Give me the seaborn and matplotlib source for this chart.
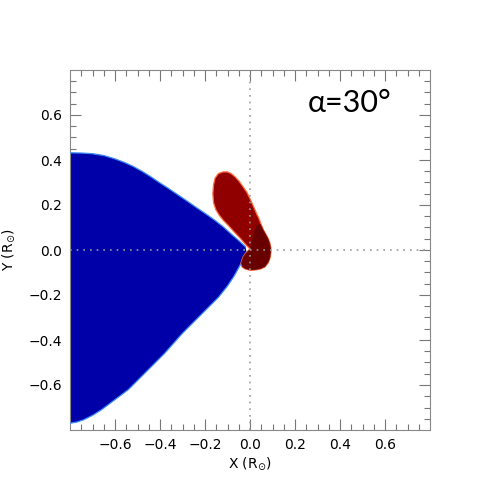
import matplotlib

matplotlib.use("agg")

import numpy as np
import pandas as pd
import matplotlib.pyplot as plt
import seaborn as sns

# Blue region outline (upper edge left -> tip, lower edge tip -> left)
blue_upper_x = [-0.80, -0.75, -0.70, -0.65, -0.60, -0.56, -0.52, -0.48, -0.44, -0.40,
                -0.36, -0.32, -0.28, -0.24, -0.20, -0.16, -0.12, -0.08, -0.05, -0.02]
blue_upper_y = [0.432, 0.431, 0.428, 0.420, 0.405, 0.390, 0.372, 0.350, 0.325, 0.298,
                0.272, 0.245, 0.218, 0.190, 0.163, 0.135, 0.104, 0.068, 0.042, 0.014]
blue_lower_x = [-0.015, -0.04, -0.07, -0.10, -0.14, -0.18, -0.22, -0.26, -0.30, -0.34, -0.38,
                -0.42, -0.46, -0.50, -0.54, -0.58, -0.62, -0.66, -0.70, -0.74, -0.77, -0.80]
blue_lower_y = [-0.010, -0.060, -0.115, -0.160, -0.210, -0.250, -0.290, -0.330, -0.370, -0.415, -0.460,
                -0.500, -0.540, -0.580, -0.620, -0.650, -0.680, -0.710, -0.735, -0.755, -0.765, -0.770]

# Red lobe outline
red_x = [-0.12, -0.14, -0.155, -0.162, -0.165, -0.162, -0.152, -0.137, -0.117, -0.098, -0.07,
         -0.044, -0.02, 0.0, -0.02, -0.031, -0.04, -0.035, -0.022, 0.0, 0.022, 0.048, 0.067,
         0.082, 0.089, 0.093, 0.093, 0.088, 0.08, 0.07, 0.06, 0.049, 0.039, 0.03, 0.017,
         0.003, -0.013, -0.03, -0.048, -0.066, -0.084, -0.1]
red_y = [0.347, 0.34, 0.32, 0.29, 0.25, 0.21, 0.18, 0.155, 0.13, 0.111, 0.08,
         0.053, 0.025, 0.005, -0.015, -0.031, -0.058, -0.075, -0.084, -0.09, -0.089, -0.084, -0.075,
         -0.055, -0.036, -0.012, 0.009, 0.032, 0.053, 0.071, 0.089, 0.115, 0.142, 0.16, 0.19,
         0.222, 0.255, 0.28, 0.305, 0.325, 0.34, 0.347]

# Darker core of the red lobe
core_x = [0.0, -0.02, -0.031, -0.04, -0.035, -0.022, 0.0, 0.022, 0.048, 0.067, 0.082,
          0.089, 0.093, 0.093, 0.088, 0.08, 0.07, 0.06, 0.047, 0.03, 0.018, 0.008]
core_y = [0.005, -0.015, -0.031, -0.058, -0.075, -0.084, -0.09, -0.089, -0.084, -0.075, -0.055,
          -0.036, -0.012, 0.009, 0.032, 0.053, 0.071, 0.089, 0.115, 0.11, 0.08, 0.04]

xticks = [-0.6, -0.4, -0.2, 0.0, 0.2, 0.4, 0.6]
yticks = [-0.6, -0.4, -0.2, 0.0, 0.2, 0.4, 0.6]
annotation = "\u03b1=30\u00b0"

sns.set_style("ticks")
plt.rcParams["font.family"] = ["DejaVu Sans"]
plt.rcParams["text.color"] = "black"
plt.rcParams["axes.labelcolor"] = "black"
plt.rcParams["xtick.labelcolor"] = "black"
plt.rcParams["ytick.labelcolor"] = "black"

fig = plt.figure(figsize=(5, 5), dpi=100)
ax = fig.add_axes([0.14, 0.14, 0.72, 0.72])

# Blue region
bx = blue_upper_x + blue_lower_x
by = blue_upper_y + blue_lower_y
ax.fill(bx, by, color="#0000a8", lw=0, zorder=2)
edge_up = pd.DataFrame({"x": blue_upper_x, "y": blue_upper_y})
edge_lo = pd.DataFrame({"x": blue_lower_x, "y": blue_lower_y})
sns.lineplot(data=edge_up, x="x", y="y", sort=False, color="#3d8cff", lw=0.9, ax=ax, zorder=3)
sns.lineplot(data=edge_lo, x="x", y="y", sort=False, color="#3d8cff", lw=0.9, ax=ax, zorder=3)

# Red lobe
ax.fill(red_x, red_y, color="#900000", ec="#ff6a3a", lw=0.9, zorder=4)
ax.fill(core_x, core_y, color="#600000", lw=0, alpha=0.8, zorder=5)

# Dotted reference lines
ax.axvline(0, color="#999999", ls=(0, (1, 3)), lw=1.2, zorder=6)
ax.axhline(0, color="#999999", ls=(0, (1, 3)), lw=1.2, zorder=6)

ax.set_xlim(-0.8, 0.8)
ax.set_ylim(-0.8, 0.8)
ax.set_xticks(xticks)
ax.set_yticks(yticks)
ax.set_xticklabels([f"{t:.1f}".replace("-", "\u2212") for t in xticks])
ax.set_yticklabels([f"{t:.1f}".replace("-", "\u2212") for t in yticks])
ax.set_xticks(np.arange(-0.75, 0.8, 0.05), minor=True)
ax.set_yticks(np.arange(-0.75, 0.8, 0.05), minor=True)
ax.tick_params(which="both", direction="in", top=True, right=True, color="#777777",
               labelsize=10, pad=6)
ax.tick_params(which="major", length=8, width=0.8)
ax.tick_params(which="minor", length=4, width=0.8)
for s in ax.spines.values():
    s.set_color("#888888")
    s.set_linewidth(0.8)

ax.set_xlabel(r"X (R$_{{\odot}}$)", fontsize=10, labelpad=2)
ax.set_ylabel(r"Y (R$_{{\odot}}$)", fontsize=10, labelpad=8)

ax.text(0.255, 0.655, annotation, fontsize=22, va="center", ha="left", zorder=7,
        family=["Lato", "DejaVu Sans"], fontweight="normal")

plt.savefig("out.png", dpi=100)
